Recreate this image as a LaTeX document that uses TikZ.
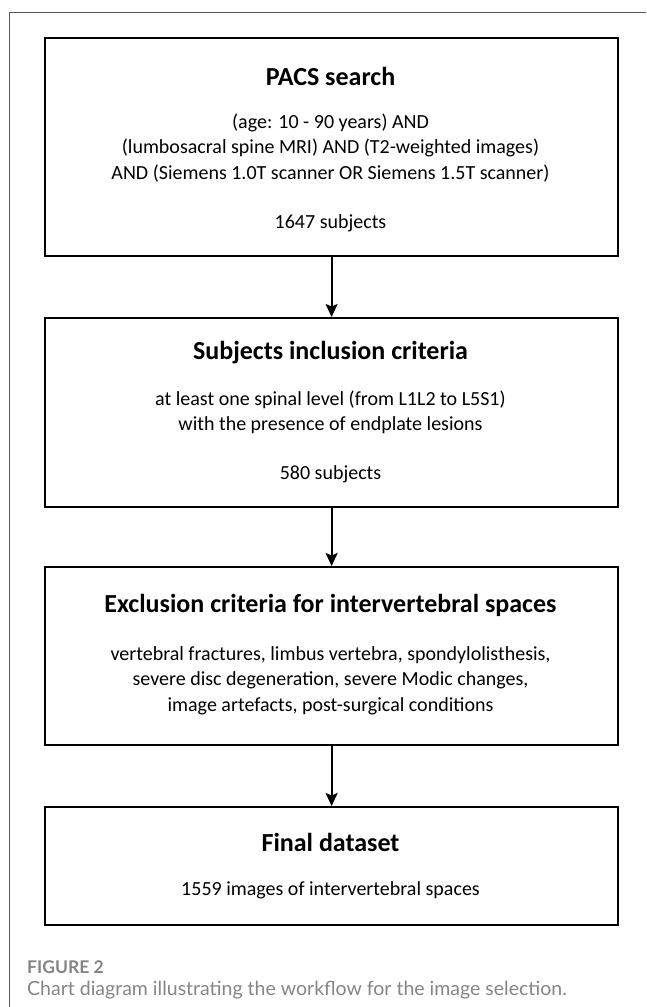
\documentclass[tikz,border=0pt]{standalone}
\usepackage{fontspec}
\setmainfont{Carlito}
\newfontfamily\capfont{Lato}
\usetikzlibrary{arrows.meta}
\definecolor{framegray}{HTML}{5A5A5A}
\definecolor{capgray}{HTML}{858585}
\begin{document}
\begin{tikzpicture}[x=1pt,y=-1pt,
  box/.style={draw=black,line width=2.2pt,minimum width=573pt,inner sep=0pt,anchor=north west},
  ttl/.style={font=\bfseries\fontsize{26}{30}\selectfont,inner sep=0pt},
  body/.style={font=\fontsize{20}{25.3}\selectfont,align=center,inner sep=0pt},
  arr/.style={-{Stealth[length=13pt,width=12pt,inset=2.5pt]},line width=1.8pt},
  captxt/.style={text=capgray,inner sep=0pt,anchor=west}]
\useasboundingbox (0,0) rectangle (646,1007);
\draw[framegray,line width=1pt] (646,12) -- (9,12) -- (9,1007);

\node[box,minimum height=218pt] (b1) at (44,37) {};
\node[box,minimum height=189pt] (b2) at (44,317) {};
\node[box,minimum height=178pt] (b3) at (44,566) {};
\node[box,minimum height=118pt] (b4) at (44,806) {};

\node[ttl] (t1) at (330.5,76) {PACS search};
\node[body] (d1) at (330.5,148) {(age: 10 - 90 years) AND\\(lumbosacral spine MRI) AND (T2-weighted images)\\AND (Siemens 1.0T scanner OR Siemens 1.5T scanner)};
\node[body] (n1) at (330.5,223) {1647 subjects};

\node[ttl] (t2) at (330.5,353) {Subjects inclusion criteria};
\node[body] (d2) at (330.5,412.5) {at least one spinal level (from L1L2 to L5S1)\\with the presence of endplate lesions};
\node[body] (n2) at (330.5,474) {580 subjects};

\node[ttl] (t3) at (330.5,605) {Exclusion criteria for intervertebral spaces};
\node[body] (d3) at (330.5,680.5) {vertebral fractures, limbus vertebra, spondylolisthesis,\\severe disc degeneration, severe Modic changes,\\image artefacts, post-surgical conditions};

\node[ttl] (t4) at (330.5,842) {Final dataset};
\node[body] (d4) at (330.5,890) {1559 images of intervertebral spaces};

\draw[arr] (b1.south) -- (b2.north);
\draw[arr] (b2.south) -- (b3.north);
\draw[arr] (b3.south) -- (b4.north);

\node[captxt,font=\capfont\bfseries\fontsize{17.5}{20}\selectfont] (fig) at (27,967) {FIGURE 2};
\node[captxt,font=\capfont\fontsize{19.5}{23}\selectfont] (capt) at (27,990) {Chart diagram illustrating the workflow for the image selection.};
\end{tikzpicture}
\end{document}
